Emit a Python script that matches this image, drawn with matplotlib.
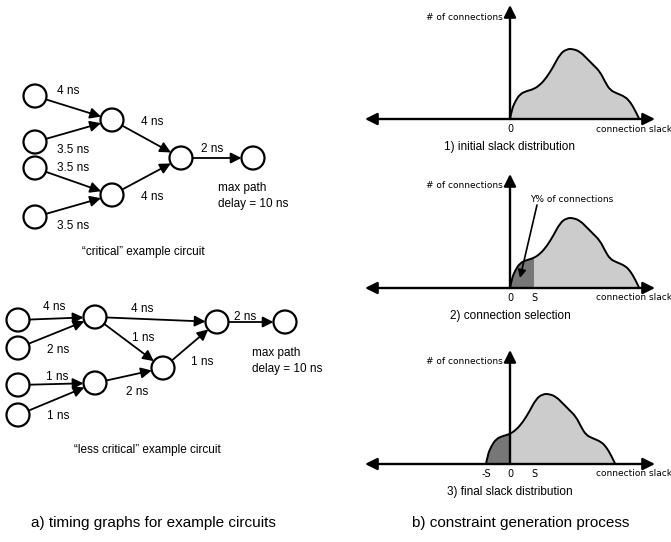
import matplotlib.pyplot as plt
from matplotlib.patches import Circle, PathPatch
from matplotlib.path import Path
import numpy as np

plt.rcParams['font.family'] = ['Liberation Sans', 'DejaVu Sans']

# edge delays (ns) of the two example circuits
crit_delay = [4, 3.5, 3.5, 3.5, 4, 4, 2]
less_delay = [4, 2, 1, 1, 4, 1, 2, 1, 2]
max_path = 10

# slack distribution (slack in arbitrary units, height = # of connections)
slack = [0, 1.7, 5, 10, 16.7, 23.3, 30, 36.7, 43.3, 50, 56.7, 63.3, 70, 76.7,
         83.3, 90, 95, 100, 106.7, 115, 120, 125, 129.3]
conns = [0, 9, 17.3, 25, 28, 29.7, 34, 41.7, 52.3, 65, 70, 70, 67.3, 60.7,
         54, 47.3, 37.3, 29, 25.7, 22.3, 17.3, 9, 0]
S = 24

fig = plt.figure(figsize=(6.71, 5.42), dpi=100)
ax = fig.add_axes([0, 0, 1, 1])
ax.set_xlim(0, 671)
ax.set_ylim(542, 0)
ax.axis('off')

R = 11.5
lab_fs = 8.5


def node(p):
    ax.add_patch(Circle(p, R, facecolor='white', edgecolor='black', lw=1.6, zorder=3))


def edge(a, b):
    a, b = np.array(a, float), np.array(b, float)
    d = (b - a) / np.linalg.norm(b - a)
    ax.annotate('', xy=b - d * R, xytext=a + d * R,
                arrowprops=dict(arrowstyle='-|>', lw=1.3, color='black',
                                mutation_scale=16, shrinkA=0, shrinkB=0))


def fmt(v):
    return f'{v:g} ns'


def smooth_path(xs, ys, close_to=None):
    # quadratic bezier through midpoints, the read points act as control points
    pts = list(zip(xs, ys))
    verts = [pts[0]]
    codes = [Path.MOVETO]
    for i in range(1, len(pts) - 1):
        mid = ((pts[i][0] + pts[i + 1][0]) / 2, (pts[i][1] + pts[i + 1][1]) / 2)
        if i == len(pts) - 2:
            mid = pts[-1]
        verts += [pts[i], mid]
        codes += [Path.CURVE3, Path.CURVE3]
    if close_to is not None:
        for p in close_to:
            verts.append(p)
            codes.append(Path.LINETO)
        verts.append(pts[0])
        codes.append(Path.CLOSEPOLY)
    return Path(verts, codes)


# ---- "critical" circuit
c_nodes = {'i1': (35, 96), 'i2': (35, 142), 'i3': (35, 168), 'i4': (35, 217),
           'm1': (112, 120), 'm2': (112, 195), 'n': (181, 158), 'o': (253, 158)}
c_edges = [('i1', 'm1'), ('i2', 'm1'), ('i3', 'm2'), ('i4', 'm2'),
           ('m1', 'n'), ('m2', 'n'), ('n', 'o')]
c_lab = [(68, 91), (73, 150), (73, 168), (73, 226), (152, 122), (152, 197), (212, 149)]
for p in c_nodes.values():
    node(p)
for (a, b), v, lp in zip(c_edges, crit_delay, c_lab):
    edge(c_nodes[a], c_nodes[b])
    ax.text(lp[0], lp[1], fmt(v), fontsize=lab_fs, ha='center', va='center')
ax.text(218, 188, 'max path', fontsize=lab_fs, ha='left', va='center')
ax.text(218, 204, f'delay = {max_path} ns', fontsize=lab_fs, ha='left', va='center')
ax.text(143, 252, '\u201ccritical\u201d example circuit', fontsize=lab_fs, ha='center', va='center')

# ---- "less critical" circuit
l_nodes = {'i1': (18, 320), 'i2': (18, 348), 'i3': (18, 385), 'i4': (18, 415),
           'm1': (95, 317), 'm2': (95, 383), 'n3': (163, 368), 'n4': (217, 322), 'o': (285, 322)}
l_edges = [('i1', 'm1'), ('i2', 'm1'), ('i3', 'm2'), ('i4', 'm2'),
           ('m1', 'n4'), ('m1', 'n3'), ('m2', 'n3'), ('n3', 'n4'), ('n4', 'o')]
l_lab = [(54, 307), (58, 350), (57, 377), (58, 416), (142, 309), (143, 338),
         (137, 392), (202, 362), (245, 317)]
for p in l_nodes.values():
    node(p)
for (a, b), v, lp in zip(l_edges, less_delay, l_lab):
    edge(l_nodes[a], l_nodes[b])
    ax.text(lp[0], lp[1], fmt(v), fontsize=lab_fs, ha='center', va='center')
ax.text(252, 353, 'max path', fontsize=lab_fs, ha='left', va='center')
ax.text(252, 369, f'delay = {max_path} ns', fontsize=lab_fs, ha='left', va='center')
ax.text(147, 450, '\u201cless critical\u201d example circuit', fontsize=lab_fs, ha='center', va='center')

# ---- slack distribution panels
x0 = 510
small = dict(fontsize=6.5, family=['DejaVu Sans'], va='center')
tick = dict(fontsize=7, family=['DejaVu Sans'], va='center', ha='center')
titles = ['1) initial slack distribution', '2) connection selection', '3) final slack distribution']
bases = [119, 288, 464]
sx = np.array(slack)
sy = np.array(conns)
for k, (yb, title) in enumerate(zip(bases, titles)):
    shift = -S if k == 2 else 0
    xs = x0 + sx + shift
    ys = yb - sy
    area = smooth_path(xs, ys, close_to=[(xs[-1], yb), (xs[0], yb)])
    ax.add_patch(PathPatch(area, facecolor='#cccccc', lw=0, zorder=1))
    if k > 0:
        # dark part: clip the same shape to the slack window [0, S] (panel 2) or [-S, 0] (panel 3)
        left = x0 if k == 1 else x0 - S
        dark = PathPatch(area, facecolor='#777777', lw=0, zorder=1.5)
        ax.add_patch(dark)
        clip = plt.Rectangle((left, yb - 120), S, 120, transform=ax.transData)
        dark.set_clip_path(clip)
    ax.add_patch(PathPatch(smooth_path(xs, ys), facecolor='none', edgecolor='black',
                           lw=1.4, zorder=2))
    # axes
    ax.annotate('', xy=(365, yb), xytext=(655, yb),
                arrowprops=dict(arrowstyle='<|-|>', lw=1.7, color='black',
                                mutation_scale=18, shrinkA=0, shrinkB=0), zorder=4)
    ax.annotate('', xy=(x0, yb - 114), xytext=(x0, yb),
                arrowprops=dict(arrowstyle='-|>', lw=1.7, color='black',
                                mutation_scale=18, shrinkA=0, shrinkB=0), zorder=4)
    ax.text(503, yb - 102, '# of connections', ha='right', **small)
    ax.text(596, yb + 10, 'connection slack', ha='left', **small)
    ax.text(x0, yb + 10, '0', **tick)
    if k > 0:
        ax.text(x0 + S, yb + 10, 'S', **tick)
    if k == 2:
        ax.text(x0 - S, yb + 10, '-S', **tick)
    ax.text(x0, yb + 28, title, fontsize=lab_fs, ha='center', va='center')

ax.text(530, 200, 'Y% of connections', ha='left', **small)
ax.annotate('', xy=(520, 278), xytext=(537, 205),
            arrowprops=dict(arrowstyle='-|>', lw=1.2, color='black',
                            mutation_scale=12, shrinkA=0, shrinkB=0))

ax.text(153, 523, 'a) timing graphs for example circuits', fontsize=11, ha='center', va='center')
ax.text(521, 523, 'b) constraint generation process', fontsize=11, ha='center', va='center')

plt.savefig('out.png', dpi=100)
